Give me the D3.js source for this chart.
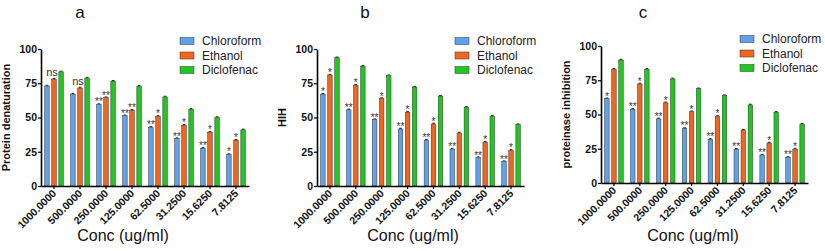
<!DOCTYPE html>
<html>
<head>
<meta charset="utf-8">
<script src="https://cdn.jsdelivr.net/npm/d3@7"></script>
<style>
  body { margin: 0; background: #fff; }
  svg { display: block; font-family: "Liberation Sans", Arial, sans-serif; }
</style>
</head>
<body>
<div id="chart"></div>
<script>
// Data
const concLabels = ["1000.0000", "500.0000", "250.0000", "125.0000", "62.5000", "31.2500", "15.6250", "7.8125"]
const seriesNames = ["Chloroform", "Ethanol", "Diclofenac"]
const yTicks = [0, 25, 50, 75, 100]

// a - Protein denaturation
const aChloroform = [73, 67, 59.5, 51.3, 42.8, 34.6, 27.5, 23]
const aEthanol = [78, 71.5, 64.5, 55.3, 50.8, 44.3, 39.2, 33.5]
const aDiclofenac = [83.3, 78.8, 76.5, 72.8, 65, 56, 50, 41]
const aChloroformSig = ["", "", "**", "**", "**", "**", "**", "*"]
const aEthanolSig = ["ns", "ns", "**", "**", "*", "*", "*", "*"]

// b - HIH
const bChloroform = [67, 55.6, 48.4, 41.6, 33.5, 27, 20.7, 17.8]
const bEthanol = [81, 73.6, 63.8, 53.8, 45.3, 38.7, 32, 26]
const bDiclofenac = [93.6, 87.4, 80.5, 72.2, 65.6, 57.4, 51, 44.8]
const bChloroformSig = ["*", "**", "**", "**", "**", "**", "**", "**"]
const bEthanolSig = ["*", "*", "*", "*", "*", "", "*", "*"]

// c - proteinase inhibition
const cChloroform = [61.5, 53.8, 46.8, 39.8, 31.8, 24.6, 20.4, 18.7]
const cEthanol = [83, 72.3, 58.5, 52, 48.6, 38.6, 29.2, 24.8]
const cDiclofenac = [89.8, 83, 76, 68.8, 63.8, 57, 51.6, 43]
const cChloroformSig = ["*", "**", "**", "**", "**", "**", "**", "**"]
const cEthanolSig = ["", "*", "*", "*", "*", "", "*", "*"]

const colors = ["#5ea2ee", "#f2651f", "#1fc71f"]

const width = 825, height = 251

const svg = d3.select("#chart").append("svg")
  .attr("width", width)
  .attr("height", height)

function panel(opts) {
  const { x0, x1, yTop, yBot, title, titleX, yLabel, xLabelX, series, sigs, legendX, legendY } = opts

  const g = svg.append("g")

  const x = d3.scaleBand()
    .domain(concLabels)
    .range([x0, x1])
    .paddingInner(0.28)
    .paddingOuter(0.14)

  const xInner = d3.scaleBand()
    .domain(seriesNames)
    .range([0, x.bandwidth()])
    .paddingInner(0.36)

  const y = d3.scaleLinear().domain([0, 100]).range([yBot, yTop])

  // bars
  series.forEach((vals, si) => {
    const bars = g.append("g")
    bars.selectAll("rect")
      .data(vals)
      .join("rect")
      .attr("x", (d, i) => x(concLabels[i]) + xInner(seriesNames[si]))
      .attr("y", d => y(d))
      .attr("width", xInner.bandwidth())
      .attr("height", d => y(0) - y(d))
      .attr("fill", colors[si])
      .attr("stroke", "#333")
      .attr("stroke-width", 0.5)

    // error caps
    bars.selectAll("line")
      .data(vals)
      .join("line")
      .attr("x1", (d, i) => x(concLabels[i]) + xInner(seriesNames[si]) + xInner.bandwidth() * 0.2)
      .attr("x2", (d, i) => x(concLabels[i]) + xInner(seriesNames[si]) + xInner.bandwidth() * 0.8)
      .attr("y1", d => y(d) - 0.7)
      .attr("y2", d => y(d) - 0.7)
      .attr("stroke", "#222")
      .attr("stroke-width", 1)
  })

  // significance marks
  sigs.forEach((marks, si) => {
    g.append("g").selectAll("text")
      .data(marks)
      .join("text")
      .attr("x", (d, i) => x(concLabels[i]) + xInner(seriesNames[si]) + xInner.bandwidth() / 2 - (d === "ns" ? 2 : 0))
      .attr("y", (d, i) => y(series[si][i]) - (d === "ns" ? 3 : -1))
      .attr("text-anchor", "middle")
      .attr("font-size", d => d === "ns" ? 11 : 10)
      .attr("fill", "#333")
      .text(d => d)
  })

  // axes
  const yAxis = g.append("g")
    .attr("transform", `translate(${x0},0)`)
    .call(d3.axisLeft(y).tickValues(yTicks).tickSize(3).tickSizeOuter(0))
  yAxis.select(".domain").attr("stroke-width", 1.6)
  yAxis.selectAll(".tick line").attr("stroke-width", 1.2)
  yAxis.selectAll("text")
    .attr("font-size", 10.5)
    .attr("font-weight", "bold")
    .attr("fill", "#111")
    .attr("x", -4)

  const xAxis = g.append("g")
    .attr("transform", `translate(0,${yBot})`)
    .call(d3.axisBottom(x).tickSize(3).tickSizeOuter(0))
  xAxis.select(".domain").attr("stroke-width", 1.6)
  xAxis.selectAll(".tick line").attr("stroke-width", 1.2)
  xAxis.selectAll("text")
    .attr("font-size", 10.5)
    .attr("font-weight", "bold")
    .attr("fill", "#111")
    .attr("text-anchor", "end")
    .attr("dy", 0)
    .attr("y", 0)
    .attr("transform", "translate(3,8) rotate(-45)")

  // titles
  g.append("text")
    .attr("x", titleX)
    .attr("y", 18)
    .attr("text-anchor", "middle")
    .attr("font-size", 17)
    .attr("fill", "#111")
    .text(title)

  g.append("text")
    .attr("transform", `translate(${x0 - 31},${(yTop + yBot) / 2}) rotate(-90)`)
    .attr("text-anchor", "middle")
    .attr("font-size", 11)
    .attr("font-weight", "bold")
    .attr("fill", "#111")
    .text(yLabel)

  g.append("text")
    .attr("x", xLabelX)
    .attr("y", 241)
    .attr("text-anchor", "middle")
    .attr("font-size", 16)
    .attr("fill", "#111")
    .text("Conc (ug/ml)")

  // legend
  const leg = g.append("g").attr("transform", `translate(${legendX},${legendY})`)
  seriesNames.forEach((name, i) => {
    leg.append("rect")
      .attr("x", 0)
      .attr("y", i * 14.5 - 3.5)
      .attr("width", 14)
      .attr("height", 7)
      .attr("fill", colors[i])
      .attr("stroke", "#333")
      .attr("stroke-width", 0.5)
    leg.append("text")
      .attr("x", 22)
      .attr("y", i * 14.5 + 4)
      .attr("font-size", 12)
      .attr("fill", "#222")
      .text(name)
  })
}

panel({
  x0: 41, x1: 249, yTop: 49, yBot: 186,
  title: "a", titleX: 80, xLabelX: 123, yLabel: "Protein denaturation",
  series: [aChloroform, aEthanol, aDiclofenac],
  sigs: [aChloroformSig, aEthanolSig],
  legendX: 180, legendY: 41
})

panel({
  x0: 317, x1: 524, yTop: 49, yBot: 186,
  title: "b", titleX: 365, xLabelX: 413, yLabel: "HIH",
  series: [bChloroform, bEthanol, bDiclofenac],
  sigs: [bChloroformSig, bEthanolSig],
  legendX: 455, legendY: 41
})

panel({
  x0: 601, x1: 808, yTop: 46, yBot: 183,
  title: "c", titleX: 643, xLabelX: 693, yLabel: "proteinase inhibition",
  series: [cChloroform, cEthanol, cDiclofenac],
  sigs: [cChloroformSig, cEthanolSig],
  legendX: 740, legendY: 39
})
</script>
</body>
</html>
